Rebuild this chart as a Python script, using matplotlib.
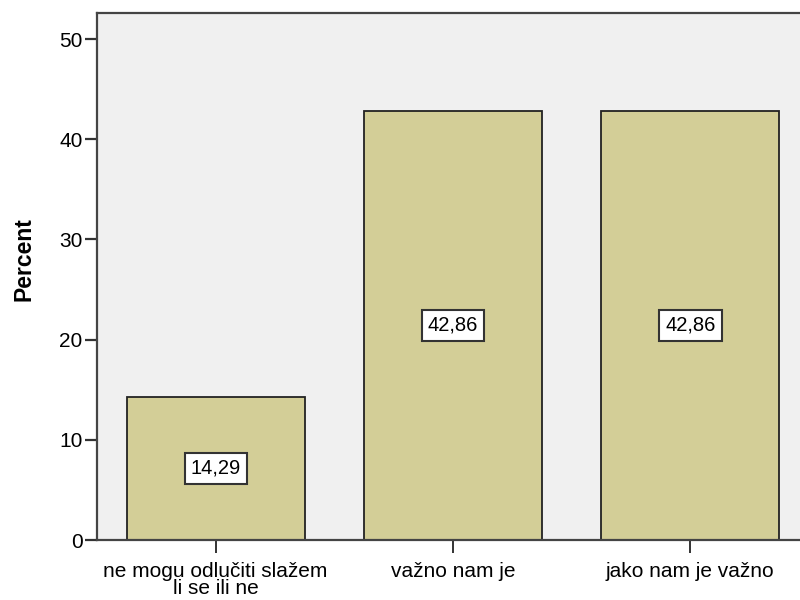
import matplotlib.pyplot as plt

categories = ['ne mogu odlučiti slažem\nli se ili ne', 'važno nam je', 'jako nam je važno']
percent = [14.29, 42.86, 42.86]
value_labels = ['14,29', '42,86', '42,86']
yticks = [0, 10, 20, 30, 40, 50]

plt.rcParams['font.family'] = ['Liberation Sans', 'DejaVu Sans']

fig = plt.figure(figsize=(8, 6), dpi=100)
# axes runs a bit past the right edge like the original screenshot
ax = fig.add_axes([97 / 800, 60 / 600, 712 / 800, 527 / 600])
ax.set_facecolor('#f0f0f0')

x = range(len(categories))
ax.bar(x, percent, width=0.75, color='#d3ce97', edgecolor='#222222', linewidth=1.3, zorder=2)

for i, (v, lab) in enumerate(zip(percent, value_labels)):
    ax.text(i, v / 2, lab, ha='center', va='center', fontsize=14.5, color='black', zorder=3,
            bbox=dict(boxstyle='square,pad=0.3', facecolor='white', edgecolor='#333333', linewidth=1.5))

ax.set_xlim(-0.5, 2.5)
ax.set_ylim(0, 52.6)
ax.set_yticks(yticks)
ax.set_xticks(list(x))
ax.set_xticklabels(categories, fontsize=15, linespacing=0.88)
ax.tick_params(axis='y', direction='out', length=9, width=1.6, labelsize=15, pad=1.5, color='#333333')
ax.tick_params(axis='x', direction='out', length=9, width=1.4, labelsize=15, pad=7, color='#333333')

for s in ax.spines.values():
    s.set_color('#444444')
    s.set_linewidth(1.6)

fig.text(24 / 800, 1 - 259 / 600, 'Percent', rotation=90, ha='center', va='center',
         fontsize=16.5, fontweight='bold')

plt.savefig('out.png', dpi=100)
